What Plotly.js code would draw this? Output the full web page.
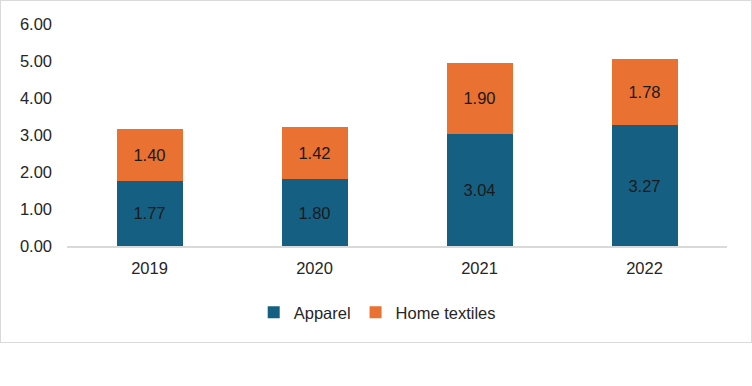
<!DOCTYPE html>
<html>
<head>
<meta charset="utf-8">
<script src="https://cdn.plot.ly/plotly-3.0.1.min.js"></script>
<style>
html,body{margin:0;padding:0;background:#fff;}
#frame{position:absolute;left:0;top:0;width:750px;height:341px;border:1px solid #d9d9d9;}
#chart{width:750px;height:341px;}
</style>
</head>
<body>
<div id="frame"><div id="chart"></div></div>
<script>
const years = ['2019', '2020', '2021', '2022'];
const apparel = [1.77, 1.80, 3.04, 3.27];
const homeTextiles = [1.40, 1.42, 1.90, 1.78];
const yTicks = [0, 1, 2, 3, 4, 5, 6];

const font = {family: 'Liberation Sans, Arial, sans-serif', size: 16.5, color: '#262626'};

const traces = [
  {type: 'bar', name: 'Apparel', x: years, y: apparel,
   marker: {color: '#156082'}, texttemplate: '%{y:.2f}', textposition: 'inside',
   insidetextanchor: 'middle', textfont: {family: font.family, size: 16.5, color: '#1a1a1a'},
   hoverinfo: 'skip'},
  {type: 'bar', name: 'Home textiles', x: years, y: homeTextiles,
   marker: {color: '#E97132'}, texttemplate: '%{y:.2f}', textposition: 'inside',
   insidetextanchor: 'middle', textfont: {family: font.family, size: 16.5, color: '#1a1a1a'},
   hoverinfo: 'skip'}
];

const layout = {
  width: 750, height: 341,
  margin: {l: 66, r: 24, t: 23, b: 95.5},
  barmode: 'stack',
  bargap: 0.6,
  paper_bgcolor: '#fff', plot_bgcolor: '#fff',
  font: font,
  showlegend: true,
  legend: {orientation: 'h', x: 0.47, xanchor: 'center', y: -0.3, yanchor: 'middle',
           font: font, itemwidth: 30, traceorder: 'normal'},
  xaxis: {type: 'category', showgrid: false, zeroline: false, showline: true,
          linecolor: '#d9d9d9', linewidth: 1.5, ticks: '', ticklabelstandoff: 7,
          tickfont: font},
  yaxis: {range: [0, 6], tickvals: yTicks, tickformat: '.2f', showgrid: false,
          zeroline: false, showline: false, ticks: '', ticklabelstandoff: 14,
          tickfont: font}
};

Plotly.newPlot('chart', traces, layout, {displayModeBar: false, staticPlot: true});
</script>
</body>
</html>
